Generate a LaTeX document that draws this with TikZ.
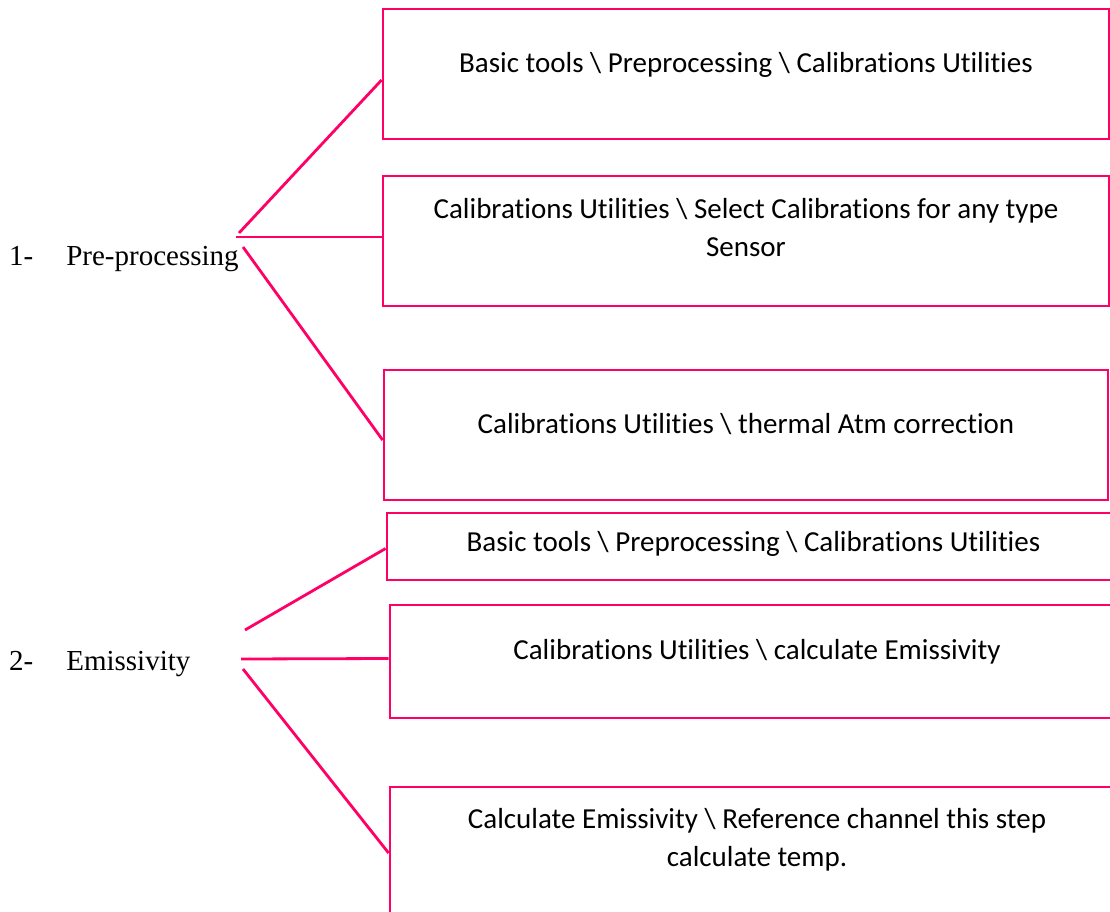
\documentclass[tikz,border=0pt]{standalone}
\usepackage{fontspec}
\setmainfont{Liberation Serif}
\newfontfamily\boxfont[Ligatures=NoCommon]{Carlito}
\usepackage{xcolor}
\usepackage{tikz}
\usetikzlibrary{positioning, calc}
\definecolor{linkpink}{HTML}{FF0066}
\tikzstyle{steplabel} = [anchor=base west, inner sep=0pt, font=\fontsize{29}{35}\selectfont]
\tikzstyle{toolbox} = [rectangle, draw=linkpink, line width=2.8pt, inner sep=0pt, align=center, font=\boxfont\fontsize{29}{38.5}\selectfont]
\tikzstyle{link} = [draw=linkpink, line width=2.8pt]
\newcommand{\lift}[2]{\raisebox{#1pt}[\height][\depth]{\begin{tabular}{@{}c@{}}#2\end{tabular}}}

\begin{document}
\begin{tikzpicture}[x=1pt, y=-1pt]
\useasboundingbox (0,0) rectangle (1110,912);

% step 1
\node (pre) [steplabel] at (9,265) {1-\hspace{33pt}Pre-processing};
\node (pre1) [toolbox, minimum width=726pt, minimum height=130pt] at (746,74) {\lift{8.7}{Basic tools \textbackslash{} Preprocessing \textbackslash{} Calibrations Utilities}};
\node (pre2) [toolbox, minimum width=726pt, minimum height=130pt] at (746,241) {\lift{11.2}{Calibrations Utilities \textbackslash{} Select Calibrations for any type\\Sensor}};
\node (pre3) [toolbox, minimum width=724pt, minimum height=130pt] at (746,435) {\lift{9.4}{Calibrations Utilities \textbackslash{} thermal Atm correction}};

\coordinate (preA) at (239,233);
\coordinate (preB) at (236,237);
\coordinate (preC) at (243,247);
\draw [link] (preA) -- ([yshift=-6pt]pre1.west);
\draw [link] (preB) -- ([yshift=4pt]pre2.west);
\draw [link] (preC) -- ([yshift=-5pt]pre3.west);

% step 2
\node (emi) [steplabel] at (9,670) {2-\hspace{33pt}Emissivity};
\node (emi1) [toolbox, minimum width=733pt, minimum height=67pt] at (753.5,546.5) {\lift{2.5}{Basic tools \textbackslash{} Preprocessing \textbackslash{} Calibrations Utilities}};
\node (emi2) [toolbox, minimum width=734pt, minimum height=113pt] at (757,661.5) {\lift{9.9}{Calibrations Utilities \textbackslash{} calculate Emissivity}};
\node (emi3) [toolbox, minimum width=734pt, minimum height=132pt] at (757,853) {\lift{13.2}{Calculate Emissivity \textbackslash{} Reference channel this step\\calculate temp.}};

\coordinate (emiA) at (245,630);
\coordinate (emiB) at (241,659);
\coordinate (emiC) at (243,669);
\draw [link] (emiA) -- ([yshift=-2pt]emi1.west);
\draw [link] (emiB) -- ([yshift=3pt]emi2.west);
\draw [link] (emiC) -- (emi3.west);
\end{tikzpicture}
\end{document}
